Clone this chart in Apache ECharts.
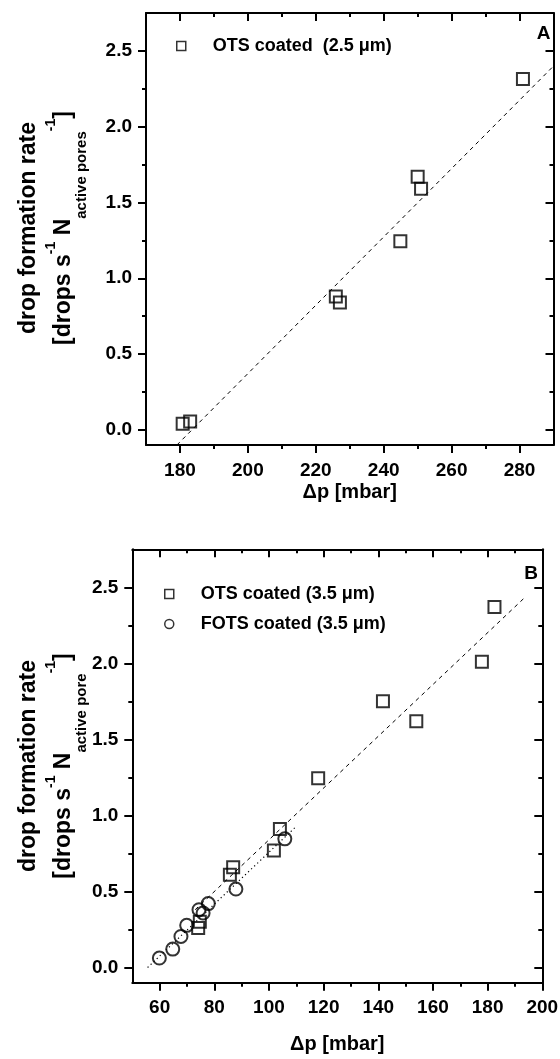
<!DOCTYPE html>
<html><head><meta charset="utf-8">
<script src="https://cdn.jsdelivr.net/npm/echarts@6/dist/echarts.min.js"></script>
<style>html,body{margin:0;padding:0;background:#fff}#c{width:560px;height:1059px}</style>
</head><body><div id="c"></div>
<script>
// ---- data ----
const aX = [180.8, 183.0, 225.9, 227.1, 244.9, 250.0, 251.0, 281.0];
const aY = [0.04, 0.055, 0.88, 0.84, 1.245, 1.67, 1.59, 2.315];
const fitAX = [179.1, 290];
const fitAY = [-0.1, 2.40];

const bOtsX = [74.1, 74.7, 85.7, 86.9, 101.8, 104.0, 118.0, 141.7, 153.9, 177.9, 182.5];
const bOtsY = [0.26, 0.30, 0.61, 0.66, 0.77, 0.91, 1.245, 1.75, 1.62, 2.01, 2.37];
const bFotsX = [59.9, 64.8, 67.8, 69.9, 74.4, 75.9, 77.8, 87.9, 105.8];
const bFotsY = [0.062, 0.121, 0.204, 0.277, 0.38, 0.358, 0.42, 0.516, 0.846];
const fitBOtsX = [73, 194];
const fitBOtsY = [0.38, 2.44];
const fitBFotsX = [55.6, 110.1];
const fitBFotsY = [0.0, 0.93];

const xTicksA = [180, 200, 220, 240, 260, 280];
const xMinorA = [190, 210, 230, 250, 270];
const xTicksB = [60, 80, 100, 120, 140, 160, 180, 200];
const xMinorB = [70, 90, 110, 130, 150, 170, 190];
const yTicks = [0, 0.5, 1.0, 1.5, 2.0, 2.5];
const yMinor = [0.25, 0.75, 1.25, 1.75, 2.25];

const legendA = ['OTS coated  (2.5 \u03bcm)'];
const legendB = ['OTS coated (3.5 \u03bcm)', 'FOTS coated (3.5 \u03bcm)'];
const xTitle = '\u0394p [mbar]';

// ---- helpers ----
const FONT = "'Liberation Sans', Arial, sans-serif";
const zip = (xs, ys) => xs.map((x, i) => [x, ys[i]]);
const LW = 2;

function axisSet(grid, min, max, major, minor, fmt, mainPos, mirrorPos, margin, extra) {
  const base = { gridIndex: grid, type: 'value', min, max, splitLine: { show: false } };
  const tickStyle = { color: '#000', width: LW };
  const out = [];
  out.push(Object.assign({}, base, {
    position: mainPos,
    axisLine: { show: true, onZero: false, lineStyle: { color: '#000', width: LW } },
    axisTick: { show: true, customValues: major, length: 8, lineStyle: tickStyle },
    axisLabel: { show: true, customValues: major, formatter: fmt, margin: margin, color: '#000',
      fontSize: 19, fontWeight: 'bold', fontFamily: FONT }
  }, extra || {}));
  out.push(Object.assign({}, base, {
    position: mainPos,
    axisLine: { show: false, onZero: false },
    axisTick: { show: true, customValues: minor, length: 4, lineStyle: tickStyle },
    axisLabel: { show: false }
  }));
  out.push(Object.assign({}, base, {
    position: mirrorPos,
    axisLine: { show: true, onZero: false, lineStyle: { color: '#000', width: LW } },
    axisTick: { show: true, inside: true, customValues: major, length: 8, lineStyle: tickStyle },
    axisLabel: { show: false }
  }));
  out.push(Object.assign({}, base, {
    position: mirrorPos,
    axisLine: { show: false, onZero: false },
    axisTick: { show: true, inside: true, customValues: minor, length: 4, lineStyle: tickStyle },
    axisLabel: { show: false }
  }));
  return out;
}

const fmtX = v => String(Math.round(v));
const fmtY = v => v.toFixed(1);
const nameStyle = { color: '#000', fontSize: 20, fontWeight: 'bold', fontFamily: FONT };

const xAxes = [].concat(
  axisSet(0, 170, 290, xTicksA, xMinorA, fmtX, 'bottom', 'top', 16,
    { name: xTitle, nameLocation: 'middle', nameGap: 37, nameTextStyle: nameStyle }),
  axisSet(1, 50, 200, xTicksB, xMinorB, fmtX, 'bottom', 'top', 16,
    { name: xTitle, nameLocation: 'middle', nameGap: 52, nameTextStyle: nameStyle })
);
const yAxes = [].concat(
  axisSet(0, -0.1, 2.75, yTicks, yMinor, fmtY, 'left', 'right', 14),
  axisSet(1, -0.1, 2.75, yTicks, yMinor, fmtY, 'left', 'right', 14)
);

const openStyle = { color: 'rgba(0,0,0,0)', borderColor: '#000', borderWidth: 2 };

function yLabel(text2, cx, cy) {
  return {
    type: 'text', x: cx, y: cy, rotation: Math.PI / 2,
    style: {
      text: '{a|drop formation rate}\n' + text2,
      align: 'center', verticalAlign: 'middle', fill: '#000',
      fontFamily: FONT, fontWeight: 'bold', fontSize: 23,
      rich: {
        a: { fontSize: 23, fontWeight: 'bold', fontFamily: FONT, lineHeight: 31, fill: '#000' },
        t: { fontSize: 23, fontWeight: 'bold', fontFamily: FONT, lineHeight: 23, verticalAlign: 'top', padding: [8, 0, 0, 0], fill: '#000' },
        sup: { fontSize: 14, fontWeight: 'bold', fontFamily: FONT, lineHeight: 14, verticalAlign: 'top', fill: '#000' },
        sub: { fontSize: 15, fontWeight: 'bold', fontFamily: FONT, lineHeight: 15, verticalAlign: 'top', padding: [30, 0, 0, 0], fill: '#000' }
      }
    }
  };
}

const option = {
  animation: false,
  backgroundColor: '#fff',
  grid: [
    { left: 146, top: 13, width: 407.5, height: 432, outerBoundsMode: 'none', containLabel: false },
    { left: 132.3, top: 549.3, width: 410, height: 433.4, outerBoundsMode: 'none', containLabel: false }
  ],
  xAxis: xAxes,
  yAxis: yAxes,
  legend: [
    { data: legendA, orient: 'vertical', left: 171, top: 31, itemWidth: 9, itemHeight: 9,
      itemStyle: { borderWidth: 1.5 },
      textStyle: { color: '#000', fontSize: 18, fontWeight: 'bold', fontFamily: FONT, lineHeight: 20, padding: [0, 0, 0, 22] } },
    { data: legendB, orient: 'vertical', left: 159, top: 579, itemGap: 10, itemWidth: 9, itemHeight: 9,
      itemStyle: { borderWidth: 1.5 },
      textStyle: { color: '#000', fontSize: 18, fontWeight: 'bold', fontFamily: FONT, lineHeight: 20, padding: [0, 0, 0, 22] } }
  ],
  graphic: [
    yLabel('{t|[drops s}{sup|-1}{t| N}{sub|active pores}{sup|-1}{t|]}', 40, 228),
    yLabel('{t|[drops s}{sup|-1}{t| N}{sub|active pore}{sup|-1}{t|]}', 40, 766),
    { type: 'text', x: 543.5, y: 33.5, style: { text: 'A', align: 'center', verticalAlign: 'middle',
      fontSize: 19, fontWeight: 'bold', fontFamily: FONT, fill: '#000' } },
    { type: 'text', x: 531, y: 573.5, style: { text: 'B', align: 'center', verticalAlign: 'middle',
      fontSize: 19, fontWeight: 'bold', fontFamily: FONT, fill: '#000' } }
  ],
  series: [
    { name: legendA[0], type: 'scatter', xAxisIndex: 0, yAxisIndex: 0, symbol: 'rect', symbolSize: 12,
      itemStyle: openStyle, data: zip(aX, aY), z: 3 },
    { name: 'fitA', type: 'line', xAxisIndex: 0, yAxisIndex: 0, symbol: 'none', silent: true,
      lineStyle: { color: '#000', width: 1, type: [4, 4] }, data: zip(fitAX, fitAY), z: 2 },
    { name: legendB[0], type: 'scatter', xAxisIndex: 4, yAxisIndex: 4, symbol: 'rect', symbolSize: 12,
      itemStyle: openStyle, data: zip(bOtsX, bOtsY), z: 3 },
    { name: legendB[1], type: 'scatter', xAxisIndex: 4, yAxisIndex: 4, symbol: 'circle', symbolSize: 13,
      itemStyle: openStyle, data: zip(bFotsX, bFotsY), z: 3 },
    { name: 'fitBOts', type: 'line', xAxisIndex: 4, yAxisIndex: 4, symbol: 'none', silent: true,
      lineStyle: { color: '#000', width: 1, type: [4, 4] }, data: zip(fitBOtsX, fitBOtsY), z: 2 },
    { name: 'fitBFots', type: 'line', xAxisIndex: 4, yAxisIndex: 4, symbol: 'none', silent: true,
      lineStyle: { color: '#000', width: 1.2, type: [1.2, 3] }, data: zip(fitBFotsX, fitBFotsY), z: 2 }
  ]
};

const chart = echarts.init(document.getElementById('c'), null, { renderer: 'canvas' });
chart.setOption(option);
</script>
</body></html>
